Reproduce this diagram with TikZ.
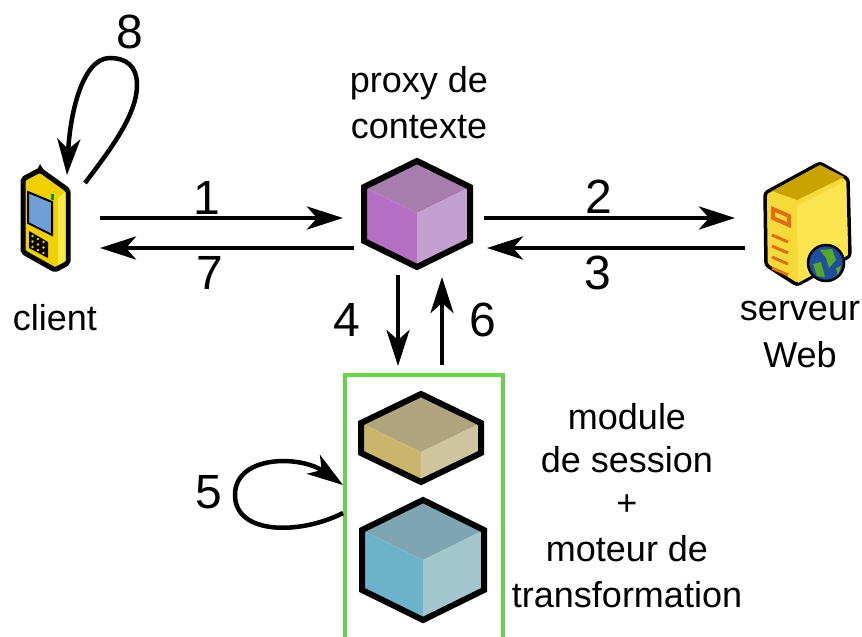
\documentclass[tikz,border=0pt]{standalone}
\usepackage{fontspec}
\setmainfont{Liberation Sans}
\usetikzlibrary{arrows.meta}

\definecolor{proxyTop}{HTML}{A67DAD}
\definecolor{proxyLeft}{HTML}{B56FC4}
\definecolor{proxyRight}{HTML}{C3A0CF}
\definecolor{sessionTop}{HTML}{B0A47F}
\definecolor{sessionLeft}{HTML}{C9B56B}
\definecolor{sessionRight}{HTML}{CEC49E}
\definecolor{moteurTop}{HTML}{7FA5B2}
\definecolor{moteurLeft}{HTML}{6CB2C8}
\definecolor{moteurRight}{HTML}{A3C5CE}
\definecolor{boxGreen}{HTML}{68D250}
\definecolor{phoneYellow}{HTML}{F0D000}
\definecolor{phoneLight}{HTML}{FBE84A}
\definecolor{phoneScreen}{HTML}{6F9FD4}
\definecolor{serverLeft}{HTML}{F7D93A}
\definecolor{serverRight}{HTML}{FDE552}
\definecolor{serverTop}{HTML}{C9A400}
\definecolor{serverOrange}{HTML}{E0700F}
\definecolor{globeBlue}{HTML}{1F4F9C}
\definecolor{globeGreen}{HTML}{55A82A}

% x, y (sommet central), demi-largeur, pente, hauteur, couleurs
\newcommand{\isocube}[6]{
  \fill[#6Top] (#1,#2) -- (#1-#3,#2-#4) -- (#1,#2-2*#4) -- (#1+#3,#2-#4) -- cycle;
  \fill[#6Left] (#1,#2) -- (#1-#3,#2-#4) -- (#1-#3,#2-#4+#5) -- (#1,#2+#5) -- cycle;
  \fill[#6Right] (#1,#2) -- (#1+#3,#2-#4) -- (#1+#3,#2-#4+#5) -- (#1,#2+#5) -- cycle;
  \draw[line width=6pt, miter limit=4] (#1,#2-2*#4) -- (#1-#3,#2-#4) -- (#1-#3,#2-#4+#5)
    -- (#1,#2+#5) -- (#1+#3,#2-#4+#5) -- (#1+#3,#2-#4) -- cycle;
}

\begin{document}
\begin{tikzpicture}[x=1pt, y=-1pt,
    fleche/.style={line width=4.5pt, -{Stealth[length=36pt, width=23pt, inset=10pt]}},
    etiquette/.style={font=\fontsize{36}{36}\selectfont, inner sep=0pt},
    chiffre/.style={font=\fontsize{48}{48}\selectfont, inner sep=0pt}]

\useasboundingbox (0,0) rectangle (862,637);
\fill[white] (0,0) rectangle (862,637);

% Client: telephone
\fill (36,172) -- (40,164) -- (45,172) -- cycle;
\draw[line width=5pt, line join=round, rounded corners=2pt, fill=phoneYellow] (40,170) -- (23,179) -- (23,252)
  -- (55,270) -- (68,263) -- (68,190) -- cycle;
\fill[phoneLight] (58,198) -- (65.5,192) -- (65.5,261) -- (58,265) -- cycle;
\draw[line width=2pt, fill=phoneScreen] (28,192) -- (52,202) -- (52,235) -- (28,223) -- cycle;
\fill[green!60!black] (51,194) rectangle (54,200);
\fill (29,231) -- (48,242) -- (48,258) -- (29,248) -- cycle;
\foreach \i in {0,1,2} \foreach \j in {0,1,2}
  \fill[phoneYellow] (32.5+5.5*\i,236+3*\i+5.5*\j) circle (1.3pt);

% Serveur Web
\draw[line width=3.5pt, line join=round, rounded corners=3pt, fill=serverLeft] (820,163) -- (765,193)
  -- (766,265) -- (797,285) -- (850,256) -- (848,179) -- cycle;
\fill[serverRight] (797,206) -- (846,181) -- (848,255) -- (798,283) -- cycle;
\fill[serverTop] (820,165) -- (772,191) -- (797,200) -- (844,177) -- cycle;
\draw[line width=4pt, serverOrange] (773,209) -- (789,216) -- (789,225) -- (773,218) -- cycle;
\foreach \k in {0,1,2,3}
  \draw[line width=3pt, serverOrange] (772,235+11*\k) -- (788,242+11*\k);
\draw[line width=2.5pt, fill=globeBlue] (826,263) circle (18pt);
\fill[globeGreen] (820,250) -- (832,249) -- (836,260) -- (829,268) -- (826,258) -- cycle;
\fill[globeGreen] (813,264) -- (821,262) -- (825,277) -- (817,276) -- cycle;
\fill[globeGreen] (836,268) -- (841,266) -- (838,276) -- cycle;

% Cubes
\isocube{417}{213}{53}{26}{54}{proxy}
\isocube{421}{452}{60}{29}{30}{session}
\isocube{423}{560}{61}{30}{60}{moteur}

% Cadre vert, ouvert en bas
\draw[boxGreen, line width=4pt] (345,637) -- (345,375) -- (503,375) -- (503,637);

% Textes
\node[etiquette] (proxyA) at (419,83) {proxy de};
\node[etiquette] (proxyB) at (419,127) {contexte};
\node[etiquette] (client) at (55,318) {client};
\node[etiquette] (serveurA) at (800,311) {serveur};
\node[etiquette] (serveurB) at (800,355) {Web};
\node[etiquette] (moduleA) at (627,417) {module};
\node[etiquette] (moduleB) at (627,460) {de session};
\node[etiquette] (moduleC) at (627,505) {+};
\node[etiquette] (moduleD) at (627,549) {moteur de};
\node[etiquette] (moduleE) at (627,595) {transformation};

% Numeros
\node[chiffre] (n1) at (207,198) {1};
\node[chiffre] (n2) at (599,197) {2};
\node[chiffre] (n3) at (598,273) {3};
\node[chiffre] (n4) at (347,320) {4};
\node[chiffre] (n5) at (209,492) {5};
\node[chiffre] (n6) at (483,320) {6};
\node[chiffre] (n7) at (210,273) {7};
\node[chiffre] (n8) at (130,32) {8};

% Extremites des fleches
\coordinate (clientA) at (100,218);
\coordinate (clientB) at (100,248);
\coordinate (proxyW) at (343,218);
\coordinate (proxyX) at (354,248);
\coordinate (proxyE) at (484,218);
\coordinate (proxyF) at (487,248);
\coordinate (serveurW) at (735,218);
\coordinate (serveurX) at (745,248);
\coordinate (proxyS) at (398,275);
\coordinate (proxyT) at (442,277);
\coordinate (cadreS) at (398,366);
\coordinate (cadreT) at (442,365);
\coordinate (loopA) at (85,183);
\coordinate (loopB) at (67,175);
\coordinate (loopC) at (343,513);
\coordinate (loopD) at (343,485);

% Fleches
\draw[fleche] (clientA) -- (proxyW);
\draw[fleche] (proxyX) -- (clientB);
\draw[fleche] (proxyE) -- (serveurW);
\draw[fleche] (serveurX) -- (proxyF);
\draw[fleche] (proxyS) -- (cadreS);
\draw[fleche] (cadreT) -- (proxyT);
\draw[fleche] (loopA) .. controls (110,150) and (137,115) .. (137,85)
  .. controls (137,65) and (125,58) .. (110,58)
  .. controls (82,58) and (70,115) .. (loopB);
\draw[fleche] (loopC) .. controls (300,535) and (235,535) .. (235,495)
  .. controls (235,455) and (300,455) .. (loopD);
\end{tikzpicture}
\end{document}
